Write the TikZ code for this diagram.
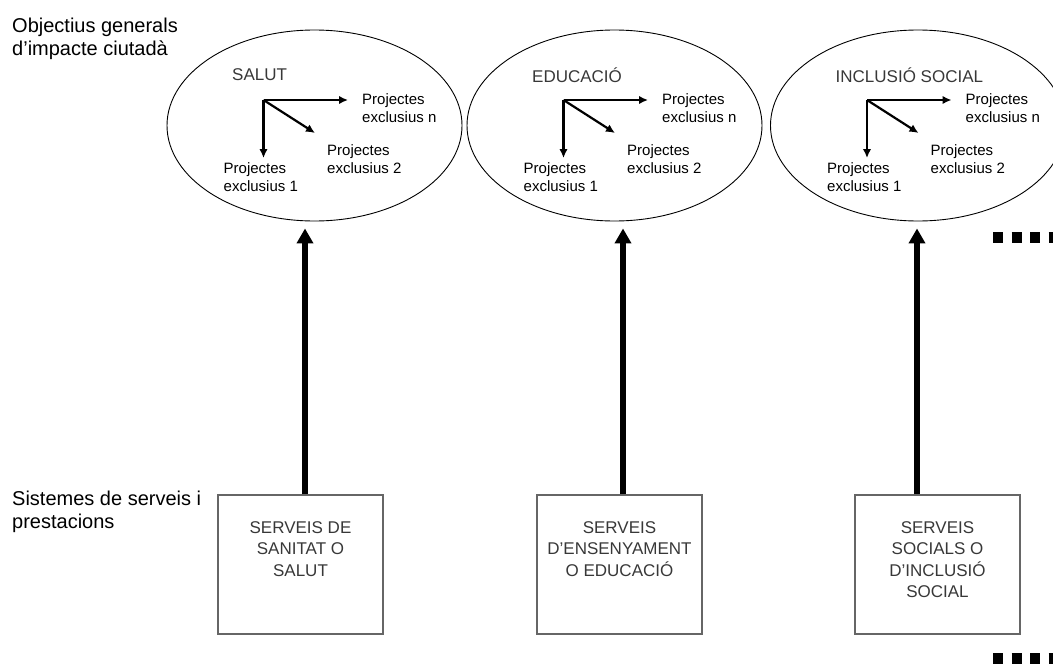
\documentclass[tikz,border=0pt]{standalone}
\usepackage{fontspec}
\setmainfont{Liberation Sans}
\usetikzlibrary{positioning,arrows.meta,shapes.geometric}
\tikzset{>=latex}
\colorlet{boxgray}{black!60}
\colorlet{textgray}{black!78}

\begin{document}
\begin{tikzpicture}[x=1pt, y=-1pt,
                    heading/.style={font=\fontsize{20}{23}\selectfont, align=left,
                                    anchor=north west, inner sep=0},
                    goal/.style={ellipse, draw, line width=0.9pt, minimum width=295,
                                 minimum height=191, inner sep=0},
                    goaltitle/.style={font=\fontsize{17}{20}\selectfont, textgray,
                                      anchor=north west, inner sep=0},
                    project/.style={font=\fontsize{15}{18}\selectfont, align=left,
                                    anchor=north west, inner sep=0},
                    subarrow/.style={line width=2.2pt, -{Latex[length=9pt,width=8.5pt]}},
                    service/.style={draw=boxgray, line width=1.2pt, minimum width=165,
                                    minimum height=139, inner sep=0},
                    servtext/.style={font=\fontsize{17}{21.5}\selectfont, textgray,
                                     align=center, inner sep=0},
                    bigarrow/.style={line width=6.5pt, -{Triangle[width=16pt,length=15pt]},
                                     shorten >=7pt},
                    dots/.style={line width=10.5pt, dash pattern=on 10pt off 8.5pt}]
  \useasboundingbox (0,0) rectangle (1053,664);
  \clip (0,0) rectangle (1053,664);

  % row headings
  \node[heading] (goals) at (12,18) {Objectius generals\\d’impacte ciutadà};
  \node[heading] (systems) at (12,491) {Sistemes de serveis i\\prestacions};

  % one column per area
  \foreach \i/\cx/\bx/\dx/\area/\serv in {
      1/314.5/300.5/4.5/SALUT/{SERVEIS DE\\SANITAT O\\SALUT},
      2/614.5/619.5/3.5/EDUCACIÓ/{SERVEIS\\D’ENSENYAMENT\\O EDUCACIÓ},
      3/918/937.5/-20.5/INCLUSIÓ SOCIAL/{SERVEIS\\SOCIALS O\\D’INCLUSIÓ\\SOCIAL}}{
    \node[goal] (ell\i) at (\cx,125.5) {};
    \node[goaltitle] (area\i) at (\cx-82.5,68) {\area};
    \coordinate (o\i) at (\cx-51,100);
    \coordinate (tn\i) at (\cx+33.5,100);
    \coordinate (t2\i) at (\cx+0.5,133);
    \coordinate (t1\i) at (\cx-51,158);
    \draw[subarrow] (o\i) -- (tn\i);
    \draw[subarrow] (o\i) -- (t2\i);
    \draw[subarrow] (o\i) -- (t1\i);
    \node[project] (pn\i) at (\cx+47.5,93) {Projectes\\exclusius n};
    \node[project] (p2\i) at (\cx+12.5,144) {Projectes\\exclusius 2};
    \node[project] (p1\i) at (\cx-91,162) {Projectes\\exclusius 1};

    \node[service] (box\i) at (\bx,564.5) {};
    \node[servtext, anchor=north, below=27pt of box\i.north] (serv\i) {\serv};
    \draw[bigarrow] ([xshift=\dx]box\i.north) -- ([xshift=\dx]box\i.north |- ell\i.south);
  }

  % more areas to the right
  \draw[dots] (993,237.5) -- (1062,237.5);
  \draw[dots] (993,658.5) -- (1062,658.5);
\end{tikzpicture}
\end{document}
